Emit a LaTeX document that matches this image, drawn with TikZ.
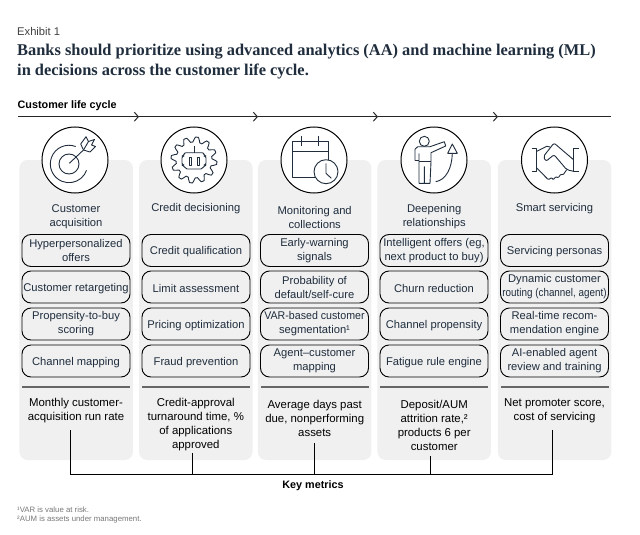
\documentclass[tikz,border=0pt]{standalone}
\usepackage{fontspec}
\setmainfont{Liberation Sans}
\newfontfamily\titlefont{Liberation Serif}
\usetikzlibrary{arrows.meta,positioning}
\definecolor{inkblue}{HTML}{1F2D3D}
\definecolor{panelgray}{HTML}{F0F0F0}
\definecolor{notegray}{HTML}{777777}

\begin{document}
\begin{tikzpicture}[
    x=1pt, y=-1pt,
    panel/.style={rectangle, rounded corners=8pt, minimum width=113.5pt, minimum height=300pt, inner sep=0pt, fill=panelgray},
    pill/.style={rectangle, rounded corners=9pt, minimum width=108pt, minimum height=32pt, inner sep=0pt, align=center, draw=black, line width=0.9pt, fill=panelgray, text=inkblue, font=\fontsize{11.2}{14}\selectfont, execute at begin node={\rule{0pt}{11pt}}},
    heading/.style={inner sep=0pt, align=center, text=inkblue, font=\fontsize{11.2}{14}\selectfont},
    metric/.style={inner sep=0pt, align=center, text=black, font=\fontsize{11.4}{14}\selectfont},
    metricrule/.style={rectangle, minimum width=108pt, minimum height=1.2pt, inner sep=0pt, fill=black!60},
    iconcircle/.style={circle, minimum size=66pt, inner sep=0pt, draw=black, line width=1pt, fill=white},
    icon/.style={draw=inkblue, line width=0.9pt, line join=round},
    arrow/.style={line width=1pt, draw=black!85, -{Straight Barb[length=4pt,width=9pt]}},
    keyline/.style={line width=1pt, draw=black},
    note/.style={inner sep=0pt, anchor=west, text=notegray, font=\fontsize{7.8}{9}\selectfont}
]
\useasboundingbox (0,0) rectangle (640,535);

% Title
\node[inner sep=0pt, anchor=west, text=black!75, font=\fontsize{11.2}{13}\selectfont] (exhibit) at (17,31) {Exhibit 1};
\node[inner sep=0pt, anchor=west, align=left, text=inkblue, font=\titlefont\bfseries\fontsize{16.4}{20}\selectfont] (title) at (17,61.5) {Banks should prioritize using advanced analytics (AA) and machine learning (ML)\\in decisions across the customer life cycle.};

% Life cycle line
\node[inner sep=0pt, anchor=west, text=black, font=\bfseries\fontsize{10.8}{13}\selectfont] (lifelabel) at (17.5,106) {Customer life cycle};
\coordinate (lifestart) at (18,116.7);
\coordinate (lifea) at (139,116.7);
\coordinate (lifeb) at (258,116.7);
\coordinate (lifec) at (378,116.7);
\coordinate (lifed) at (498,116.7);
\coordinate (lifeend) at (611,116.7);
\draw[arrow] (lifestart) -- (lifea);
\draw[arrow] (lifea) -- (lifeb);
\draw[arrow] (lifeb) -- (lifec);
\draw[arrow] (lifec) -- (lifed);
\draw[line width=1pt, draw=black!85] (lifed) -- (lifeend);

% Panels
\node[panel] (acqpanel) at (76.2,310) {};
\node[panel] (credpanel) at (195.8,310) {};
\node[panel] (monpanel) at (314.7,310) {};
\node[panel] (deeppanel) at (434.2,310) {};
\node[panel] (servpanel) at (554.5,310) {};

% Icon circles
\node[iconcircle] (acqcircle) at (75,160) {};
\node[iconcircle] (credcircle) at (194,160) {};
\node[iconcircle] (moncircle) at (314,160) {};
\node[iconcircle] (deepcircle) at (434,160) {};
\node[iconcircle] (servcircle) at (554.5,160) {};

% Target icon
\draw[icon] (69,164) circle (10);
\draw[icon] (75.7,146.5) arc (-69:-340:18.7);
\draw[icon] (69.3,163.3) -- (83.5,150);
\draw[icon] (83.5,150) -- (80.7,144) -- (86,136.7) -- (88.5,141.5) -- (94.5,139.5) -- (91.5,145) -- (95.5,146.5) -- (90,152) -- cycle;
\draw[icon] (83.5,150) -- (88.5,141.5);

% Gear icon
\draw[icon, shift={(194,160)}] plot[domain=0:360, samples=97] (\x:{20.5+2.5*sign(sin(12*\x))}) -- cycle;
\draw[icon, rounded corners=2pt] (184,152.7) -- (204,152.7) -- (204,156) -- (206,156) -- (206,165) -- (204,165) -- (203,169) -- (185,169) -- (184,165) -- (182,165) -- (182,156) -- (184,156) -- cycle;
\draw[icon] (194,146) -- (194,152.7);
\draw[icon] (189,157.7) rectangle (191.7,165.3);
\draw[icon] (197,157.7) rectangle (199.7,165.3);

% Calendar icon
\draw[icon] (292.3,141.7) rectangle (328.3,177.3);
\draw[icon] (292.3,151.7) -- (328.3,151.7);
\draw[icon] (301,136) -- (301,146);
\draw[icon] (318.7,136) -- (318.7,146);
\draw[icon, fill=white] (326,171.7) circle (12);
\draw[icon] (326,163.3) -- (326,173.3) -- (331.3,178.3);

% Person icon
\draw[icon] (424.3,141.3) circle (5);
\draw[icon] (415,160.7) -- (415,149.3) -- (417.7,146.7) -- (430,146.7) -- (444.3,141.7) -- (445.7,146) -- (431,152.7) -- (431,161.7) -- (430,183.3) -- (424.3,183.3) -- (424.3,166.7) -- (424.3,183.3) -- (419,183.3) -- (419,153.3);
\draw[icon] (415,160.7) -- (419,160.7);
\draw[icon] (419,161.7) -- (431,161.7);
\draw[icon] (435.7,181.7) .. controls (446,180) and (452,168) .. (452.3,153.3);
\draw[icon] (452.3,144) -- (447.7,153.3) -- (457.3,153.3) -- cycle;

% Handshake icon
\draw[icon] (531.7,148) -- (536.7,148) -- (536.7,171.5) -- (531.7,171.5);
\draw[icon] (578.5,148) -- (573.5,148) -- (573.5,171.5) -- (578.5,171.5);
\draw[icon] (536.7,151.3) -- (546.7,146.3) -- (550,147);
\draw[icon, rounded corners=2pt] (573.5,159.7) -- (554,143) -- (543.3,156.7) -- (546,161.3) -- (554,154.7) -- (566.7,169.7) -- (573.5,171.3);
\draw[icon, rounded corners=1pt] (536.7,168) -- (548.3,179.7) -- (552,177.5) -- (553,180) -- (556,176.5) -- (558,178) -- (561,174) -- (563,175) -- (566.7,169.7);

% Headings
\node[heading] (acqhead) at (76,217) {Customer\\acquisition};
\node[heading] (credhead) at (195.8,209) {Credit decisioning};
\node[heading] (monhead) at (314.7,217) {Monitoring and\\collections};
\node[heading] (deephead) at (434.2,217) {Deepening\\relationships};
\node[heading] (servhead) at (554.5,209) {Smart servicing};

% Customer acquisition
\node[pill] (acqa) at (76,250.5) {Hyperpersonalized\\offers};
\node[pill] (acqb) at (76,287) {Customer retargeting};
\node[pill] (acqc) at (76,324) {Propensity-to-buy\\scoring};
\node[pill] (acqd) at (76,361) {Channel mapping};

% Credit decisioning
\node[pill] (creda) at (196,250.5) {Credit qualification};
\node[pill] (credb) at (196,287) {Limit assessment};
\node[pill] (credc) at (196,324) {Pricing optimization};
\node[pill] (credd) at (196,361) {Fraud prevention};

% Monitoring and collections
\node[pill] (mona) at (314.5,250.5) {Early-warning\\signals};
\node[pill] (monb) at (314.5,287) {Probability of\\default/self-cure};
\node[pill] (monc) at (314.5,324) {\addfontfeature{FakeStretch=0.95}VAR-based customer\\segmentation¹};
\node[pill] (mond) at (314.5,361) {Agent–customer\\mapping};

% Deepening relationships
\node[pill] (deepa) at (434,250.5) {Intelligent offers (eg,\\next product to buy)};
\node[pill] (deepb) at (434,287) {Churn reduction};
\node[pill] (deepc) at (434,324) {Channel propensity};
\node[pill] (deepd) at (434,361) {Fatigue rule engine};

% Smart servicing
\node[pill] (serva) at (554.5,250.5) {Servicing personas};
\node[pill] (servb) at (554.5,287) {Dynamic customer\\{\addfontfeature{FakeStretch=0.88}routing (channel, agent)}};
\node[pill] (servc) at (554.5,324) {Real-time recom-\\mendation engine};
\node[pill] (servd) at (554.5,361) {AI-enabled agent\\review and training};

% Rules
\node[metricrule] (acqrule) at (76,387) {};
\node[metricrule] (credrule) at (196,387) {};
\node[metricrule] (monrule) at (314.5,387) {};
\node[metricrule] (deeprule) at (434,387) {};
\node[metricrule] (servrule) at (554.5,387) {};

% Metrics
\node[metric] (acqmetric) at (76,411) {Monthly customer-\\acquisition run rate};
\node[metric] (credmetric) at (195.8,425) {Credit-approval\\turnaround time, \%\\of applications\\approved};
\node[metric] (monmetric) at (314.7,418) {Average days past\\due, nonperforming\\assets};
\node[metric] (deepmetric) at (434.2,425) {Deposit/AUM\\attrition rate,²\\products 6 per\\customer};
\node[metric] (servmetric) at (554.5,411) {Net promoter score,\\cost of servicing};

% Key metrics bracket
\coordinate (acqstem) at (70,430);
\coordinate (credstem) at (192,453);
\coordinate (monstem) at (314,443);
\coordinate (deepstem) at (430.5,456);
\coordinate (servstem) at (552.5,430);
\coordinate (acqbase) at (70,474);
\coordinate (credbase) at (192,474);
\coordinate (monbase) at (314,474);
\coordinate (deepbase) at (430.5,474);
\coordinate (servbase) at (552.5,474);
\draw[keyline] (acqstem) -- (acqbase) -- (servbase) -- (servstem);
\draw[keyline] (credstem) -- (credbase);
\draw[keyline] (monstem) -- (monbase);
\draw[keyline] (deepstem) -- (deepbase);
\node[inner sep=0pt, text=black, font=\bfseries\fontsize{10.8}{13}\selectfont] (keylabel) at (313,486) {Key metrics};

% Footnotes
\node[note] (notea) at (17,509.5) {¹VAR is value at risk.};
\node[note] (noteb) at (17,519.5) {²AUM is assets under management.};

\end{tikzpicture}
\end{document}
